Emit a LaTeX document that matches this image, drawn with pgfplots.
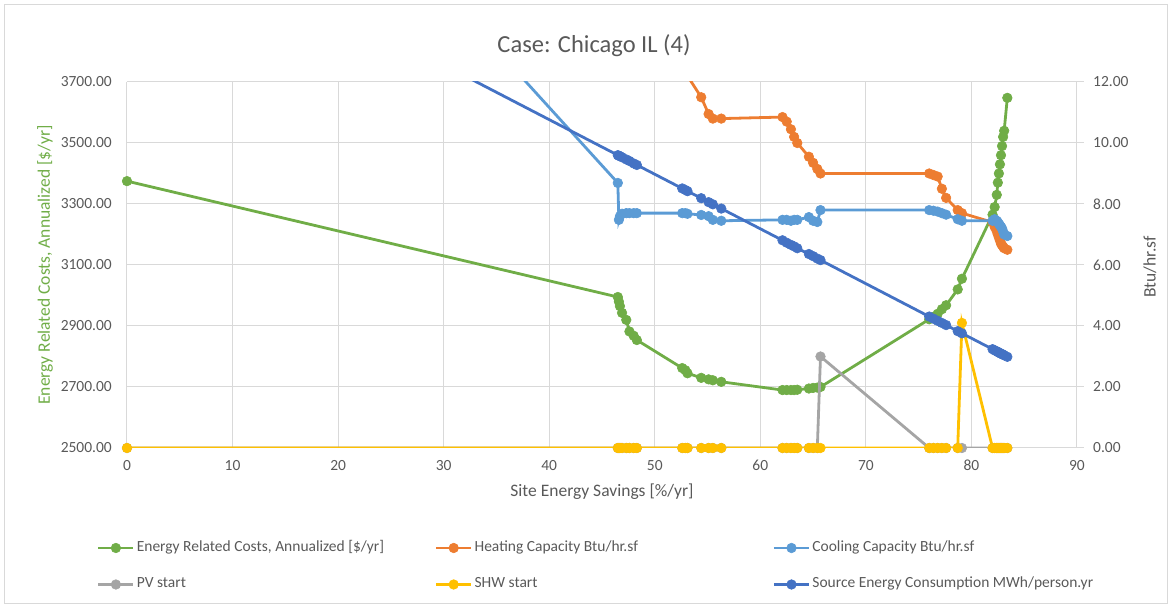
\documentclass[border=0pt]{standalone}
\usepackage{fontspec}
\setmainfont{Carlito}
\usepackage{pgfplots}
\usepackage{pgfplotstable}
\pgfplotsset{compat=1.18}

\definecolor{cCost}{HTML}{70AD47}
\definecolor{cHeat}{HTML}{ED7D31}
\definecolor{cCool}{HTML}{5B9BD5}
\definecolor{cPV}{HTML}{A5A5A5}
\definecolor{cSHW}{HTML}{FFC000}
\definecolor{cSrc}{HTML}{4472C4}
\definecolor{txt}{HTML}{595959}
\definecolor{grd}{HTML}{D9D9D9}

% x = site energy savings [%/yr]; cost on left axis, the rest on the right axis
\pgfplotstableread{
x     cost heat  cool  pv   shw  src
0     3375 37.00 26.40 0    0    17.94
46.5  2995 15.50 8.69  0    0    9.60
46.6  2980 15.40 7.48  0    0    9.58
46.7  2965 15.30 7.60  0    0    9.57
46.9  2943 15.20 7.68  0    0    9.53
47.3  2920 15.00 7.70  0    0    9.46
47.6  2882 14.80 7.70  0    0    9.41
48.0  2868 14.60 7.70  0    0    9.33
48.3  2854 14.40 7.70  0    0    9.28
52.6  2762 12.40 7.70  0    0    8.51
52.9  2755 12.30 7.70  0    0    8.46
53.1  2745 12.20 7.68  0    0    8.42
54.4  2730 11.50 7.64  0    0    8.19
55.1  2725 10.95 7.60  0    0    8.06
55.5  2722 10.80 7.48  0    0    7.99
56.3  2717 10.80 7.45  0    0    7.85
62.1  2690 10.85 7.48  0    0    6.81
62.5  2690 10.70 7.48  0    0    6.73
62.9  2690 10.45 7.45  0    0    6.66
63.2  2690 10.20 7.48  0    0    6.61
63.5  2691 10.00 7.48  0    0    6.55
64.6  2695 9.55  7.57  0    0    6.36
65.0  2697 9.35  7.45  0    0    6.29
65.4  2698 9.15  7.41  0    0    6.21
65.7  2700 9.00  7.80  3.00 0    6.16
76.0  2922 9.00  7.80  0    0    4.31
76.4  2930 8.95  7.78  0    0    4.24
76.8  2940 8.90  7.75  0    0    4.17
77.2  2955 8.50  7.70  0    0    4.10
77.6  2968 8.20  7.65  0    0    4.03
78.7  3020 7.80  7.50  0    0    3.83
79.1  3055 7.70  7.45  0    4.10 3.76
82.0  3265 7.40  7.45  0    0    3.24
82.2  3290 7.25  7.50  0    0    3.20
82.4  3330 7.10  7.45  0    0    3.17
82.5  3370 7.00  7.40  0    0    3.15
82.6  3400 6.90  7.35  0    0    3.13
82.7  3430 6.80  7.30  0    0    3.11
82.8  3460 6.70  7.25  0    0    3.09
82.9  3490 6.65  7.20  0    0    3.08
83.0  3520 6.60  7.10  0    0    3.06
83.1  3540 6.55  7.00  0    0    3.04
83.4  3648 6.50  6.95  0    0    2.99
}\runs

\pgfplotsset{
  ser/.style={color=#1, line width=2.8pt, mark=*, mark size=4.8pt,
    mark options={fill=#1, line width=0.6pt}},
  base/.style={scale only axis, width=950pt, height=366pt,
    at={(127pt,159pt)}, anchor=south west, xmin=0, xmax=90,
    /pgf/number format/assume math mode=true,
    tick label style={font=\fontsize{15.5}{18}\selectfont, text=txt},
    label style={font=\fontsize{17.5}{21}\selectfont}},
}

\begin{document}
\begin{tikzpicture}
\useasboundingbox (0,0) rectangle (1171pt,607pt);
\draw[grd, line width=0.8pt] (4pt,4pt) rectangle (1167pt,603pt);

\begin{axis}[base,
  ymin=2500, ymax=3700, ytick={2500,2700,...,3700}, xtick distance=10,
  axis x line*=bottom, axis y line*=left,
  axis line style={grd, line width=1pt}, major tick length=0pt,
  grid=major, major grid style={grd, line width=1pt},
  yticklabel style={/pgf/number format/fixed, /pgf/number format/fixed zerofill,
    /pgf/number format/precision=2, /pgf/number format/1000 sep={},
    inner sep=0pt, xshift=-15pt},
  xticklabel style={inner sep=0pt, yshift=-12pt},
  title={Case: Chicago IL (4)},
  title style={at={(axis description cs:0.4916,1.0820)}, anchor=center,
    font=\fontsize{24.5}{29}\selectfont, text=txt},
  xlabel={Site Energy Savings [\%/yr]},
  xlabel style={at={(axis description cs:0.5,-0.1202)}, anchor=center, text=txt},
  ylabel={Energy Related Costs, Annualized [\$/yr]},
  ylabel style={at={(axis description cs:-0.0863,0.5)}, anchor=center, text=cCost},
]
\addplot[ser=cCost] table[x=x, y=cost] {\runs};
\end{axis}

\begin{axis}[base,
  ymin=0, ymax=12, ytick distance=2,
  axis y line*=right, axis x line=none,
  axis line style={grd, line width=1pt},
  tick align=outside, major tick length=7pt, ytick style={grd, line width=1pt},
  yticklabel style={/pgf/number format/fixed, /pgf/number format/fixed zerofill,
    /pgf/number format/precision=2, inner sep=0pt, xshift=9pt},
  ylabel={Btu/hr.sf},
  ylabel style={at={(axis description cs:1.0768,0.4945)}, anchor=center, text=txt},
  legend columns=3, legend cell align=left,
  legend image code/.code={\draw[mark repeat=2, mark phase=2, #1]
    plot coordinates {(0pt,0pt) (17.5pt,0pt) (35pt,0pt)};},
  legend style={at={(0,0)}, anchor=north west, xshift=-30pt, yshift=-92.5pt,
    draw=none, fill=none, inner sep=0pt, outer sep=0pt, row sep=21.5pt,
    font=\fontsize{15.5}{18}\selectfont, text=txt,
    nodes={inner sep=0pt, text height=11pt, text depth=4pt},
    /tikz/every odd column/.append style={column sep=2pt}},
]
\addlegendimage{ser=cCost}
\addlegendentry{\makebox[298pt][l]{Energy Related Costs, Annualized [\$/yr]}}
\addplot[ser=cHeat] table[x=x, y=heat] {\runs};
\addlegendentry{\makebox[298pt][l]{Heating Capacity Btu/hr.sf}}
\addplot[ser=cCool] table[x=x, y=cool] {\runs};
\addlegendentry{Cooling Capacity Btu/hr.sf}
\addplot[ser=cPV] table[x=x, y=pv] {\runs};
\addlegendentry{PV start}
\addplot[ser=cSHW] table[x=x, y=shw] {\runs};
\addlegendentry{SHW start}
\addplot[ser=cSrc] table[x=x, y=src] {\runs};
\addlegendentry{Source Energy Consumption MWh/person.yr}
\end{axis}
\end{tikzpicture}
\end{document}
